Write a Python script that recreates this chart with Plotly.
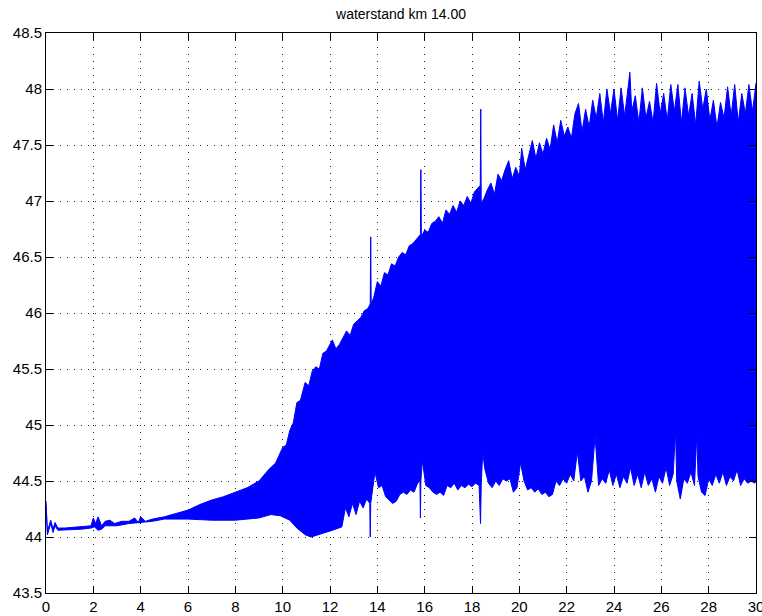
import plotly.graph_objects as go

title_text = "waterstand km 14.00"

# upper envelope of the water level signal (km 14.00)
upper_x = [0.0, 0.06, 0.2, 0.3, 0.38, 0.5, 0.8, 1.5, 1.9, 2.0, 2.1, 2.2, 2.35, 2.5, 2.7, 2.9, 3.2, 3.5, 3.75, 3.9,
           4.0, 4.2, 4.5, 5.0, 5.5, 6.0, 6.5, 7.0, 7.5, 8.0, 8.5, 9.0, 9.4, 9.7,
           10.0, 10.15, 10.3, 10.45, 10.6, 10.75, 10.95, 11.1, 11.25, 11.4, 11.55, 11.7, 11.85, 12.0, 12.1, 12.25,
           12.4, 12.55, 12.7, 12.85, 13.0, 13.15, 13.3, 13.45, 13.6, 13.7, 13.72, 13.74, 13.85, 14.0, 14.15, 14.3,
           14.45, 14.6, 14.75, 14.9, 15.05, 15.2, 15.35, 15.5, 15.65, 15.82, 15.84, 15.86, 16.0, 16.15, 16.3, 16.45,
           16.6, 16.75, 16.9, 17.05, 17.2, 17.35, 17.5, 17.65, 17.8, 17.95, 18.1, 18.25, 18.35, 18.37, 18.39, 18.5,
           18.65, 18.8, 18.95, 19.1, 19.25, 19.4, 19.55, 19.7, 19.85, 20.0, 20.1, 20.25, 20.4, 20.55, 20.7, 20.85,
           21.0, 21.15, 21.3, 21.45, 21.6, 21.75, 21.9, 22.05, 22.2, 22.35, 22.5, 22.65, 22.8, 22.95, 23.1, 23.25,
           23.4, 23.55, 23.7, 23.85, 24.0, 24.15, 24.3, 24.45, 24.6, 24.67, 24.75, 24.9, 25.05, 25.2, 25.35, 25.5,
           25.65, 25.8, 25.95, 26.1, 26.25, 26.4, 26.55, 26.7, 26.85, 27.0, 27.15, 27.3, 27.45, 27.6, 27.75, 27.9,
           28.05, 28.2, 28.35, 28.5, 28.65, 28.8, 28.95, 29.1, 29.25, 29.4, 29.55, 29.7, 29.85, 30.0]
upper_y = [44.32, 44.05, 44.15, 44.07, 44.13, 44.08, 44.08, 44.09, 44.10, 44.17, 44.12, 44.18, 44.10, 44.14, 44.15, 44.12, 44.14, 44.14, 44.17, 44.13,
           44.18, 44.14, 44.16, 44.18, 44.21, 44.24, 44.29, 44.33, 44.36, 44.40, 44.44, 44.50, 44.60, 44.66,
           44.80, 44.82, 44.95, 45.02, 45.20, 45.22, 45.38, 45.35, 45.48, 45.52, 45.50, 45.64, 45.66, 45.72, 45.76, 45.68,
           45.72, 45.78, 45.84, 45.80, 45.90, 45.93, 45.96, 46.02, 46.04, 46.08, 46.68, 46.08, 46.14, 46.28, 46.24, 46.36,
           46.34, 46.44, 46.42, 46.50, 46.54, 46.52, 46.60, 46.62, 46.66, 46.70, 47.28, 46.68, 46.74, 46.72, 46.80, 46.82,
           46.86, 46.80, 46.92, 46.88, 46.96, 46.90, 47.00, 46.96, 47.04, 46.98, 47.08, 47.12, 47.14, 47.82, 46.98, 47.02,
           47.10, 47.16, 47.06, 47.24, 47.18, 47.28, 47.36, 47.20, 47.30, 47.22, 47.47, 47.28, 47.40, 47.54, 47.38, 47.52,
           47.42, 47.56, 47.46, 47.68, 47.52, 47.72, 47.58, 47.66, 47.56, 47.78, 47.87, 47.62, 47.82, 47.66, 47.90, 47.74,
           47.96, 47.70, 48.00, 47.78, 48.00, 47.72, 48.01, 47.76, 48.02, 48.15, 47.80, 47.94, 47.70, 48.01, 47.74, 47.89,
           47.70, 48.05, 47.78, 47.96, 47.72, 48.04, 47.80, 48.04, 47.70, 48.01, 47.76, 47.96, 47.68, 48.07, 47.82, 48.00,
           47.72, 47.90, 47.66, 47.88, 47.74, 48.02, 47.76, 48.04, 47.70, 47.96, 47.78, 48.04, 47.80, 48.05]

# lower envelope of the water level signal
lower_x = [0.0, 0.06, 0.2, 0.3, 0.38, 0.5, 0.8, 1.5, 1.9, 2.05, 2.2, 2.35, 2.5, 2.8, 3.0, 3.5, 4.0, 4.5, 5.0, 5.5,
           6.0, 7.0, 8.0, 9.0, 9.5, 9.9, 10.3, 10.6, 10.95, 11.2, 11.4, 11.8, 12.1, 12.5, 12.65, 12.8, 12.95, 13.1,
           13.25, 13.4, 13.55, 13.68, 13.70, 13.72, 13.85, 13.9, 14.05, 14.2, 14.35, 14.5, 14.65, 14.8, 14.95, 15.1,
           15.25, 15.4, 15.55, 15.7, 15.80, 15.82, 15.84, 15.9, 16.05, 16.2, 16.35, 16.5, 16.65, 16.8, 16.95, 17.1,
           17.25, 17.4, 17.55, 17.7, 17.85, 18.0, 18.15, 18.3, 18.36, 18.39, 18.45, 18.55, 18.7, 18.85, 19.0, 19.15,
           19.3, 19.45, 19.6, 19.75, 19.9, 20.05, 20.2, 20.35, 20.5, 20.65, 20.8, 20.95, 21.1, 21.25, 21.4, 21.55,
           21.7, 21.85, 22.0, 22.15, 22.3, 22.45, 22.6, 22.75, 22.9, 23.05, 23.2, 23.35, 23.5, 23.65, 23.8, 23.95,
           24.1, 24.25, 24.4, 24.55, 24.7, 24.85, 25.0, 25.15, 25.3, 25.45, 25.6, 25.75, 25.9, 26.05, 26.2, 26.35,
           26.5, 26.6, 26.65, 26.8, 26.95, 27.1, 27.25, 27.4, 27.5, 27.55, 27.7, 27.85, 28.0, 28.15, 28.3, 28.45,
           28.6, 28.75, 28.9, 29.05, 29.2, 29.35, 29.5, 29.65, 29.8, 29.95, 30.0]
lower_y = [44.28, 44.02, 44.12, 44.04, 44.10, 44.06, 44.06, 44.07, 44.08, 44.09, 44.06, 44.07, 44.10, 44.10, 44.10, 44.12, 44.13, 44.14, 44.16, 44.16,
           44.16, 44.15, 44.15, 44.17, 44.20, 44.19, 44.15, 44.08, 44.02, 44.00, 44.02, 44.04, 44.06, 44.09, 44.26, 44.18, 44.30, 44.20,
           44.32, 44.26, 44.34, 44.30, 44.00, 44.30, 44.50, 44.58, 44.44, 44.46, 44.36, 44.33, 44.30, 44.32, 44.38, 44.40,
           44.38, 44.42, 44.40, 44.48, 44.50, 44.17, 44.50, 44.68, 44.46, 44.44, 44.40, 44.38, 44.40, 44.37, 44.46, 44.44,
           44.48, 44.42, 44.46, 44.44, 44.47, 44.45, 44.48, 44.46, 44.12, 44.46, 44.75, 44.60, 44.48, 44.44, 44.50, 44.46,
           44.52, 44.50, 44.52, 44.40, 44.44, 44.66, 44.50, 44.42, 44.44, 44.40, 44.43, 44.38, 44.40, 44.36, 44.38, 44.50,
           44.46, 44.52, 44.48, 44.56, 44.50, 44.76, 44.50, 44.54, 44.40, 44.50, 44.90, 44.46, 44.52, 44.48, 44.60, 44.46,
           44.56, 44.44, 44.54, 44.48, 44.62, 44.46, 44.56, 44.44, 44.58, 44.46, 44.52, 44.40, 44.54, 44.48, 44.62, 44.46,
           44.56, 44.95, 44.50, 44.34, 44.52, 44.48, 44.58, 44.46, 44.92, 44.54, 44.40, 44.37, 44.52, 44.46, 44.56, 44.48,
           44.58, 44.46, 44.54, 44.50, 44.60, 44.46, 44.52, 44.48, 44.50, 44.48, 44.52]

x_ticks = [0, 2, 4, 6, 8, 10, 12, 14, 16, 18, 20, 22, 24, 26, 28, 30]
y_ticks = [43.5, 44, 44.5, 45, 45.5, 46, 46.5, 47, 47.5, 48, 48.5]

poly_x = upper_x + lower_x[::-1]
poly_y = upper_y + lower_y[::-1]

fig = go.Figure()
fig.add_trace(go.Scatter(
    x=poly_x, y=poly_y, mode="lines", fill="toself",
    fillcolor="#0000ff", line=dict(color="#0000ff", width=1),
    hoverinfo="skip", showlegend=False,
))

axis_common = dict(
    showgrid=True, gridcolor="#222222", gridwidth=1, griddash="1px,6px",
    showline=True, linecolor="black", linewidth=1, mirror="ticks",
    ticks="inside", ticklen=7, tickcolor="black", tickwidth=1,
    zeroline=False, automargin=False,
    tickfont=dict(family="Liberation Sans, Arial, sans-serif", size=15, color="black"),
)

fig.update_layout(
    width=762, height=616,
    margin=dict(l=46, r=6, t=33, b=23),
    paper_bgcolor="white", plot_bgcolor="white",
    title=dict(text=title_text, x=0.5, xanchor="center", xref="paper", y=0.977, yanchor="middle",
               font=dict(family="Liberation Sans, Arial, sans-serif", size=14, color="black")),
    xaxis=dict(range=[0, 30], tickvals=x_ticks, ticktext=[str(v) for v in x_ticks],
               ticklabeloverflow="allow", **axis_common),
    yaxis=dict(range=[43.5, 48.5], tickvals=y_ticks, ticktext=[("%g" % v) for v in y_ticks], **axis_common),
)

fig.write_html("out.html")
